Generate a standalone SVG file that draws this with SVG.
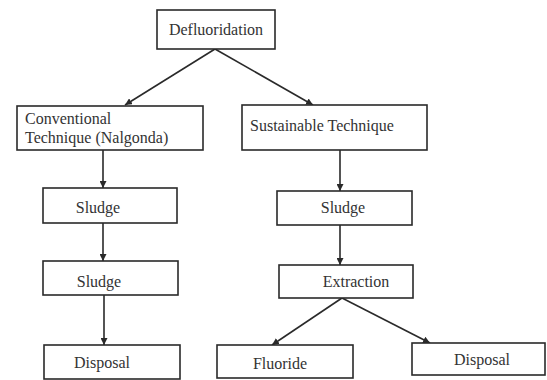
<svg xmlns="http://www.w3.org/2000/svg" width="547" height="380" viewBox="0 0 547 380">
<defs>
<marker id="ah" viewBox="0 0 10 10" refX="10" refY="5" markerWidth="7" markerHeight="7" markerUnits="userSpaceOnUse" orient="auto">
<path d="M0,0 L10,5 L0,10 z" fill="#2a2a2a"/>
</marker>
<style>
.box{fill:#fff;stroke:#2a2a2a;stroke-width:1.6}
.t{font-family:"Liberation Serif","Times New Roman",serif;font-size:16px;fill:#333}
.c{text-anchor:middle}
.ln{stroke:#2a2a2a;stroke-width:1.6;fill:none;marker-end:url(#ah)}
</style>
</defs>
<rect width="547" height="380" fill="#fff"/>
<g id="connectors">
<line class="ln" x1="215" y1="49" x2="125" y2="105"/>
<line class="ln" x1="215" y1="49" x2="313" y2="105"/>
<line class="ln" x1="103" y1="150" x2="103" y2="188"/>
<line class="ln" x1="103" y1="223" x2="103" y2="261"/>
<line class="ln" x1="104" y1="295" x2="104" y2="345"/>
<line class="ln" x1="340" y1="150" x2="340" y2="191"/>
<line class="ln" x1="340" y1="225" x2="340" y2="265"/>
<line class="ln" x1="342" y1="298" x2="272" y2="345"/>
<line class="ln" x1="342" y1="298" x2="430" y2="343"/>
</g>
<g id="defluoridation">
<rect class="box" x="157" y="10" width="118" height="39"/>
<text class="t c" x="216" y="35">Defluoridation</text>
</g>
<g id="conventional">
<rect class="box" x="17" y="106" width="186" height="44"/>
<text class="t" x="25" y="124">Conventional</text>
<text class="t" x="25" y="143">Technique (Nalgonda)</text>
</g>
<g id="sustainable">
<rect class="box" x="242" y="105" width="185" height="45"/>
<text class="t" x="250" y="131">Sustainable Technique</text>
</g>
<g id="sludge1">
<rect class="box" x="43" y="188" width="134" height="35"/>
<text class="t c" x="98" y="213">Sludge</text>
</g>
<g id="sludge2">
<rect class="box" x="43" y="261" width="135" height="34"/>
<text class="t c" x="99" y="287">Sludge</text>
</g>
<g id="disposal1">
<rect class="box" x="44" y="345" width="136" height="34"/>
<text class="t c" x="102" y="368">Disposal</text>
</g>
<g id="sludge3">
<rect class="box" x="277" y="191" width="135" height="34"/>
<text class="t c" x="343" y="213">Sludge</text>
</g>
<g id="extraction">
<rect class="box" x="279" y="265" width="134" height="33"/>
<text class="t c" x="356" y="287">Extraction</text>
</g>
<g id="fluoride">
<rect class="box" x="217" y="345" width="136" height="33"/>
<text class="t c" x="280" y="369">Fluoride</text>
</g>
<g id="disposal2">
<rect class="box" x="412" y="343" width="133" height="32"/>
<text class="t c" x="482" y="365">Disposal</text>
</g>
</svg>
